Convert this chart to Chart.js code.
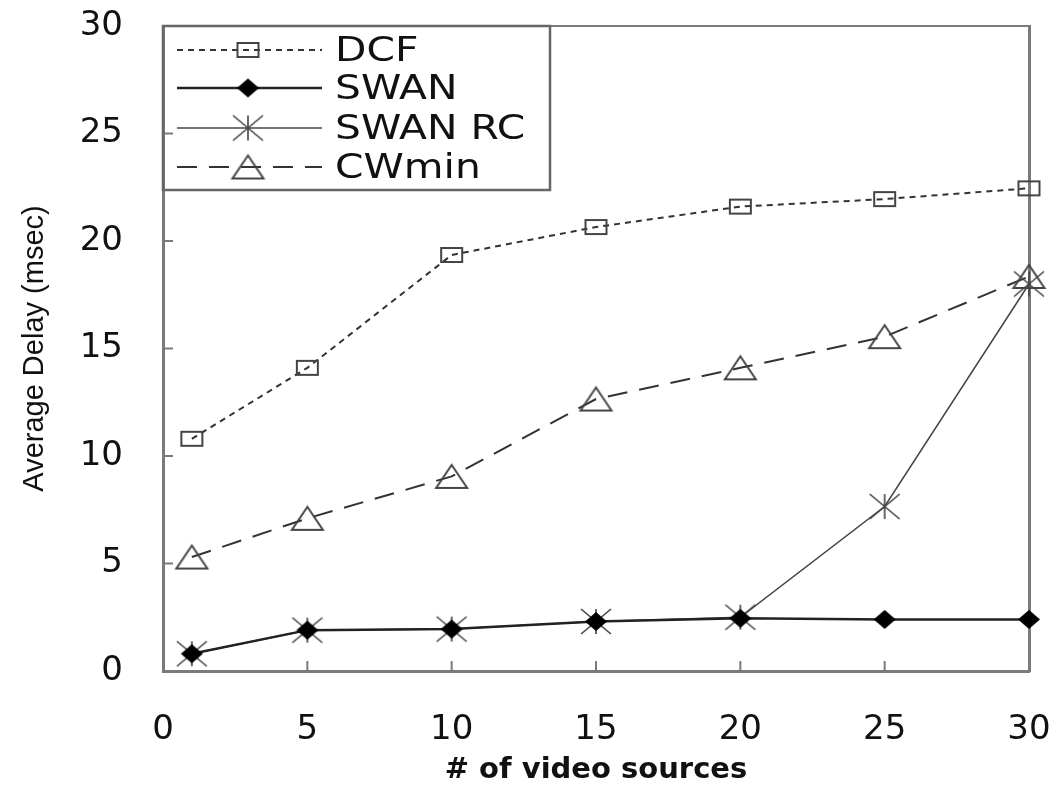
<!DOCTYPE html>
<html lang="en">
<head>
<meta charset="UTF-8">
<title>Average Delay vs video sources</title>
<script src="https://cdn.jsdelivr.net/npm/chart.js"></script>
<style>
  html, body { margin: 0; padding: 0; background: #fff; }
  #wrap { width: 1055px; height: 788px; }
</style>
</head>
<body>
<div id="wrap"><canvas id="delayChart" width="1055" height="788"></canvas></div>
<script>
// data
const sources = [1, 5, 10, 15, 20, 25, 30];
const dcf     = [10.8, 14.1, 19.35, 20.65, 21.6, 21.95, 22.45];
const swan    = [0.8, 1.9, 1.95, 2.3, 2.45, 2.4, 2.4];
const swanRC  = [0.8, 1.9, 1.95, 2.3, 2.5, 7.65, 18.0];
const cwmin   = [5.3, 7.1, 9.05, 12.65, 14.1, 15.55, 18.35];
const seriesNames = ['DCF', 'SWAN', 'SWAN RC', 'CWmin'];
const xTicks = [0, 5, 10, 15, 20, 25, 30];
const yTicks = [0, 5, 10, 15, 20, 25, 30];

const axisGrey = '#7a7a7a';

// markers in the figure are wider than tall, so draw them as small images
function marker(w, h, draw) {
    const c = document.createElement('canvas');
    c.width = w + 4;
    c.height = h + 4;
    const g = c.getContext('2d');
    g.translate(2, 2);
    draw(g, w, h);
    return c;
}
const squareMark = marker(23, 16, (g, w, h) => {
    g.strokeStyle = '#444'; g.lineWidth = 2;
    g.strokeRect(1, 1, w - 2, h - 2);
});
const diamondMark = marker(22, 19, (g, w, h) => {
    g.fillStyle = '#000';
    g.beginPath();
    g.moveTo(w / 2, 0); g.lineTo(w, h / 2); g.lineTo(w / 2, h); g.lineTo(0, h / 2);
    g.closePath(); g.fill();
});
const starMark = marker(30, 25, (g, w, h) => {
    g.strokeStyle = '#444'; g.lineWidth = 1.6;
    g.beginPath();
    g.moveTo(w / 2, 0); g.lineTo(w / 2, h);
    g.moveTo(0, 0); g.lineTo(w, h);
    g.moveTo(w, 0); g.lineTo(0, h);
    g.stroke();
});
const triMark = marker(33, 25, (g, w, h) => {
    g.strokeStyle = '#444'; g.lineWidth = 2;
    g.beginPath();
    g.moveTo(w / 2, 1); g.lineTo(w - 1, h - 1); g.lineTo(1, h - 1);
    g.closePath(); g.stroke();
});

function pts(vals) {
    return sources.map((x, i) => ({ x: x, y: vals[i] }));
}

// pick a narrow face for the y title if it exists
function yTitleFont() {
    const c = document.createElement('canvas').getContext('2d');
    const s = 'Average Delay (msec)';
    c.font = '36px "Liberation Sans Narrow", monospace';
    const a = c.measureText(s).width;
    c.font = '36px monospace';
    const b = c.measureText(s).width;
    if (Math.abs(a - b) > 1) return { family: '"Liberation Sans Narrow"', size: 35 };
    return { family: '"Liberation Sans"', size: 29 };
}

// inward tick marks and the thin top frame line
const innerTicks = {
    id: 'innerTicks',
    afterDraw(chart) {
        const { ctx, chartArea: a, scales } = chart;
        ctx.save();
        ctx.strokeStyle = axisGrey;
        ctx.lineWidth = 2;
        ctx.beginPath();
        xTicks.slice(1, -1).forEach(v => {
            const px = scales.x.getPixelForValue(v);
            ctx.moveTo(px, a.bottom);
            ctx.lineTo(px, a.bottom - 10);
        });
        yTicks.slice(1, -1).forEach(v => {
            const py = scales.y.getPixelForValue(v);
            ctx.moveTo(a.left, py);
            ctx.lineTo(a.left + 10, py);
        });
        ctx.moveTo(a.left, a.top);
        ctx.lineTo(a.right, a.top);
        ctx.stroke();
        ctx.restore();
    }
};

// boxed legend in the upper left corner
const boxLegend = {
    id: 'boxLegend',
    afterDraw(chart) {
        const { ctx, chartArea: a } = chart;
        const left = a.left, top = a.top, right = 550, bottom = 190;
        ctx.save();
        ctx.strokeStyle = '#666';
        ctx.lineWidth = 2.5;
        ctx.strokeRect(left, top, right - left, bottom - top);
        const rows = [50, 88, 128, 167];
        chart.data.datasets.forEach((ds, i) => {
            const y = rows[i];
            ctx.strokeStyle = ds.borderColor;
            ctx.lineWidth = ds.borderWidth;
            ctx.setLineDash(ds.borderDash || []);
            ctx.beginPath();
            ctx.moveTo(177, y);
            ctx.lineTo(322, y);
            ctx.stroke();
            ctx.setLineDash([]);
            const img = ds.pointStyle;
            ctx.drawImage(img, 248 - img.width / 2, y - img.height / 2);
            ctx.save();
            ctx.translate(335, y);
            ctx.scale(1.2, 1);
            ctx.fillStyle = '#111';
            ctx.font = '34px "DejaVu Sans"';
            ctx.textBaseline = 'middle';
            ctx.fillText(ds.label, 0, 2);
            ctx.restore();
        });
        ctx.restore();
    }
};

const yt = yTitleFont();
const ctx = document.getElementById('delayChart').getContext('2d');

new Chart(ctx, {
    type: 'line',
    data: {
        datasets: [{
            label: seriesNames[0],
            data: pts(dcf),
            borderColor: '#333',
            borderWidth: 2,
            borderDash: [6, 5],
            pointStyle: squareMark,
        }, {
            label: seriesNames[1],
            data: pts(swan),
            borderColor: '#222',
            borderWidth: 2.5,
            pointStyle: diamondMark,
        }, {
            label: seriesNames[2],
            data: pts(swanRC),
            borderColor: '#444',
            borderWidth: 1.5,
            pointStyle: starMark,
        }, {
            label: seriesNames[3],
            data: pts(cwmin),
            borderColor: '#333',
            borderWidth: 2,
            borderDash: [20, 12],
            pointStyle: triMark,
        }]
    },
    options: {
        responsive: false,
        animation: false,
        layout: { padding: { top: 26, left: 0, right: 0, bottom: 0 } },
        elements: {
            line: { tension: 0, fill: false },
            point: { radius: 10 }
        },
        datasets: { line: { clip: false } },
        plugins: {
            legend: { display: false },
            tooltip: { enabled: false }
        },
        scales: {
            x: {
                type: 'linear',
                min: 0,
                max: 30,
                afterFit(s) {
                    s.height = 117;
                    s.paddingLeft = 0;
                    s.paddingRight = 0;
                },
                afterBuildTicks(s) { s.ticks = xTicks.map(v => ({ value: v })); },
                ticks: {
                    color: '#111',
                    padding: 39,
                    maxRotation: 0,
                    autoSkip: false,
                    font: { family: '"DejaVu Sans"', size: 34 }
                },
                grid: { display: false, drawTicks: false },
                border: { color: axisGrey, width: 3 },
                title: {
                    display: true,
                    text: '# of video sources',
                    color: '#111',
                    padding: { top: 0, bottom: 0 },
                    font: { family: '"DejaVu Sans"', size: 29, weight: 'bold' }
                }
            },
            y: {
                min: 0,
                max: 30,
                afterFit(s) {
                    s.width = 163;
                    s.paddingTop = 0;
                    s.paddingBottom = 0;
                },
                afterBuildTicks(s) { s.ticks = yTicks.map(v => ({ value: v })); },
                ticks: {
                    color: '#111',
                    padding: 40,
                    font: { family: '"DejaVu Sans"', size: 34 }
                },
                grid: { display: false, drawTicks: false },
                border: { color: axisGrey, width: 3 },
                title: {
                    display: true,
                    text: 'Average Delay (msec)',
                    color: '#111',
                    padding: { top: 18, bottom: 0 },
                    font: { family: yt.family, size: yt.size }
                }
            },
            y2: {
                position: 'right',
                min: 0,
                max: 30,
                afterFit(s) {
                    s.width = 26;
                    s.paddingTop = 0;
                    s.paddingBottom = 0;
                },
                ticks: { display: false },
                grid: { display: false, drawTicks: false },
                border: { color: axisGrey, width: 3 }
            }
        }
    },
    plugins: [innerTicks, boxLegend]
});
</script>
</body>
</html>
